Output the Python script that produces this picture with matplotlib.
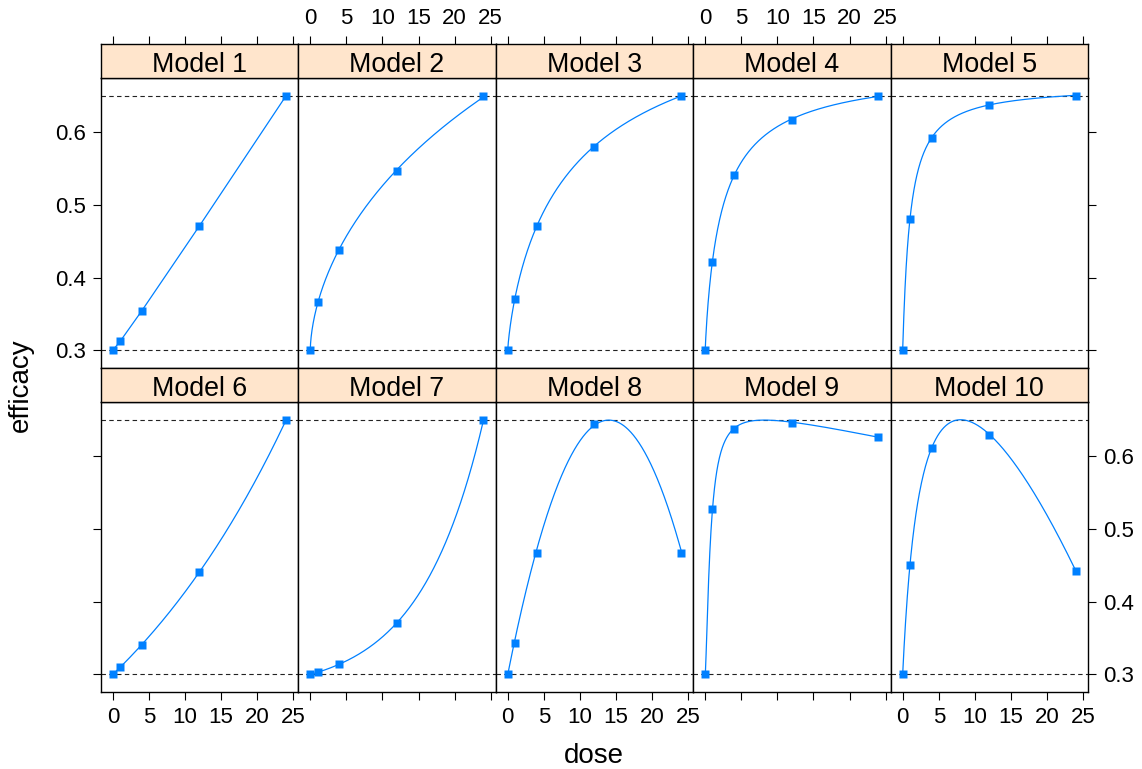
import numpy as np
import matplotlib
matplotlib.use("Agg")
import matplotlib.pyplot as plt

plt.rcParams['font.family'] = ['Liberation Sans', 'DejaVu Sans']

# data
doses = [0, 1, 4, 12, 24]
titles = ["Model %d" % i for i in range(1, 11)]
model1 = [0.300, 0.312, 0.354, 0.471, 0.650]
model2 = [0.300, 0.366, 0.438, 0.546, 0.650]
model3 = [0.300, 0.371, 0.471, 0.580, 0.650]
model4 = [0.300, 0.422, 0.541, 0.617, 0.650]
model5 = [0.300, 0.480, 0.592, 0.638, 0.650]
model6 = [0.300, 0.310, 0.341, 0.441, 0.650]
model7 = [0.300, 0.303, 0.315, 0.371, 0.650]
model8 = [0.300, 0.344, 0.467, 0.644, 0.467]
model9 = [0.300, 0.528, 0.638, 0.646, 0.627]
model10 = [0.300, 0.451, 0.612, 0.629, 0.443]
models = [model1, model2, model3, model4, model5,
          model6, model7, model8, model9, model10]
placebo = 0.30
max_eff = 0.35
x_ticks = [0, 5, 10, 15, 20, 25]
y_ticks = [0.3, 0.4, 0.5, 0.6]


def sig_emax(d, ed50, h, emax):
    return emax * d**h / (ed50**h + d**h)


def expo(d, delta):
    return max_eff * (np.exp(d / delta) - 1) / (np.exp(24 / delta) - 1)


# smooth dose-response shapes (parameters estimated from the points)
shapes = [
    None,  # model 1 is a straight line through its points
    lambda d: sig_emax(d, 200.0, 0.60, 1.5916),
    lambda d: sig_emax(d, 9.924, 0.80, 0.5221),
    lambda d: sig_emax(d, 2.425, 0.90, 0.3936),
    lambda d: sig_emax(d, 1.031, 1.03, 0.3644),
    lambda d: expo(d, 30.516),
    lambda d: expo(d, 8.788),
    lambda d: max_eff * d * (28 - d) / 196.0,
    lambda d: sig_emax(d, 0.7478, 1.4, 0.38029) - 2.123e-3 * d,
    lambda d: sig_emax(d, 2.6744, 1.0, 0.5606) - 3.078e-3 * d**1.5,
]

blue = '#0080ff'
W, H = 1142, 769
fig = plt.figure(figsize=(W / 100, H / 100), dpi=100)

x0, cw = 100.7, 197.46
row_top = [78.0, 402.3]
row_h = 290.0
strip_h = 34.0
xlim = (-1.68, 25.68)
ylim = (0.2755, 0.6745)
tick_kw = dict(direction='out', length=5.8, width=0.8, labelsize=16, pad=5)
dd = np.linspace(0, 24, 600)

for r in range(2):
    for c in range(5):
        i = r * 5 + c
        left = x0 + c * cw
        ax = fig.add_axes([left / W, 1 - (row_top[r] + row_h) / H, cw / W, row_h / H])
        sax = fig.add_axes([left / W, 1 - row_top[r] / H, cw / W, strip_h / H])

        ax.axhline(placebo, color='#222222', lw=0.8, ls=(0, (4, 3)))
        ax.axhline(placebo + max_eff, color='#222222', lw=0.8, ls=(0, (4, 3)))
        if shapes[i] is None:
            ax.plot(doses, models[i], color=blue, lw=0.9)
        else:
            ax.plot(dd, placebo + shapes[i](dd), color=blue, lw=0.9)
        ax.plot(doses, models[i], 's', ms=6.2, color=blue, mec='none', zorder=3)

        ax.set_xlim(xlim)
        ax.set_ylim(ylim)
        ax.set_xticks(x_ticks)
        ax.set_yticks(y_ticks)
        ax.set_yticklabels([str(v) for v in y_ticks])
        ax.tick_params(axis='both', **tick_kw)
        ax.tick_params(axis='x', top=False, bottom=(r == 1),
                       labelbottom=(r == 1 and c in (0, 2, 4)), labeltop=False)
        ax.tick_params(axis='y', left=(c == 0), right=(c == 4),
                       labelleft=(c == 0 and r == 0),
                       labelright=(c == 4 and r == 1))
        for sp in ax.spines.values():
            sp.set_linewidth(1.0)
            sp.set_color('black')

        sax.set_facecolor('#ffe5cc')
        sax.set_xlim(xlim)
        sax.set_ylim(0, 1)
        sax.set_yticks([])
        sax.set_xticks(x_ticks)
        sax.tick_params(axis='x', **tick_kw)
        sax.tick_params(axis='x', bottom=False, labelbottom=False,
                        top=(r == 0), labeltop=(r == 0 and c in (1, 3)))
        for sp in sax.spines.values():
            sp.set_linewidth(1.0)
            sp.set_color('black')
        sax.text(0.5, 0.18, titles[i], ha='center', va='baseline',
                 fontsize=19.3, transform=sax.transAxes)

fig.text(594 / W, 1 - 756 / H, 'dose', ha='center', va='center', fontsize=20)
fig.text(21 / W, 1 - 385 / H, 'efficacy', ha='center', va='center',
         rotation=90, fontsize=20)

fig.savefig('out.png', dpi=100)
